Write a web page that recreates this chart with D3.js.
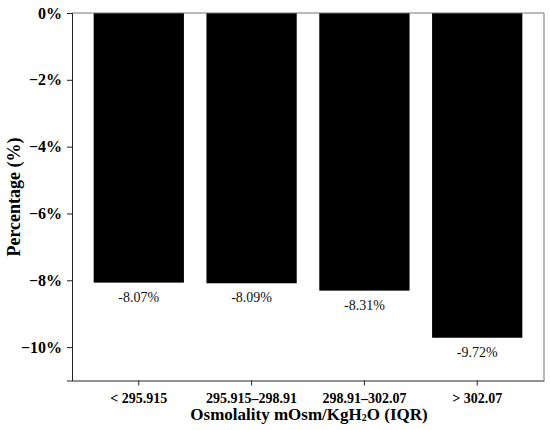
<!DOCTYPE html>
<html>
<head>
<meta charset="utf-8">
<script src="https://cdn.jsdelivr.net/npm/d3@7"></script>
<style>
  body { margin: 0; background: #fff; }
  svg text { font-family: "Liberation Serif", "Times New Roman", serif; }
</style>
</head>
<body>
<svg id="svg" width="550" height="430"></svg>
<script>
// data
var categories = ["< 295.915", "295.915\u2013298.91", "298.91\u2013302.07", "> 302.07"];
var values = [-8.07, -8.09, -8.31, -9.72];
var yTicks = [0, -2, -4, -6, -8, -10];

var svg = d3.select("#svg");

// plot area (not "top": that is window.top)
var plotL = 72, plotR = 544, plotT = 13, plotB = 380.5;

var x = d3.scaleBand()
  .domain(categories)
  .range([plotL, plotR])
  .paddingInner(0.2)
  .paddingOuter(0.192);

var y = d3.scaleLinear()
  .domain([-11, 0])
  .range([plotB, plotT]);

// bars
svg.append("g").selectAll("rect")
  .data(values)
  .enter().append("rect")
  .attr("x", function(d, i) { return x(categories[i]); })
  .attr("y", y(0))
  .attr("width", x.bandwidth())
  .attr("height", function(d) { return y(d) - y(0); })
  .attr("fill", "#000");

// value labels
svg.append("g").selectAll("text")
  .data(values)
  .enter().append("text")
  .attr("x", function(d, i) { return x(categories[i]) + x.bandwidth() / 2; })
  .attr("y", function(d) { return y(d) + 19; })
  .attr("text-anchor", "middle")
  .attr("font-size", "14px")
  .attr("fill", "#111")
  .text(function(d) { return d.toFixed(2) + "%"; });

// frame (top/right)
svg.append("line").attr("x1", plotL).attr("x2", plotR).attr("y1", plotT).attr("y2", plotT)
  .attr("stroke", "#777").attr("stroke-width", 1);
svg.append("line").attr("x1", plotR).attr("x2", plotR).attr("y1", plotT).attr("y2", plotB)
  .attr("stroke", "#777").attr("stroke-width", 1);

// axes
var yAxis = d3.axisLeft(y)
  .tickValues(yTicks)
  .tickSize(5)
  .tickFormat(function(d) { return (d < 0 ? "\u2212" + Math.abs(d) : d) + "%"; });

var gy = svg.append("g").attr("transform", "translate(" + plotL + ",0)").call(yAxis);
gy.selectAll("text").attr("font-size", "16px").attr("font-weight", "bold")
  .attr("font-family", "Liberation Serif").attr("fill", "#000").attr("dx", "-2px");
gy.select(".domain").attr("stroke", "#222");
gy.selectAll(".tick line").attr("stroke", "#222");

var xAxis = d3.axisBottom(x).tickSize(5).tickSizeOuter(0);
var gx = svg.append("g").attr("transform", "translate(0," + plotB + ")").call(xAxis);
gx.selectAll("text").attr("font-size", "14px").attr("font-weight", "bold")
  .attr("font-family", "Liberation Serif").attr("fill", "#000").attr("dy", "1em");
gx.select(".domain").attr("stroke", "#222");
gx.selectAll(".tick line").attr("stroke", "#222");

// axis titles
svg.append("text")
  .attr("transform", "translate(20,197) rotate(-90)")
  .attr("text-anchor", "middle")
  .attr("font-size", "18px")
  .attr("font-weight", "bold")
  .text("Percentage (%)");

var xt = svg.append("text")
  .attr("x", (plotL + plotR) / 2 + 1)
  .attr("y", 420)
  .attr("text-anchor", "middle")
  .attr("font-size", "17px")
  .attr("font-weight", "bold");
xt.append("tspan").text("Osmolality mOsm/KgH");
xt.append("tspan").attr("font-size", "10px").attr("dy", "1").text("2");
xt.append("tspan").attr("dy", "-1").text("O (IQR)");
</script>
</body>
</html>
